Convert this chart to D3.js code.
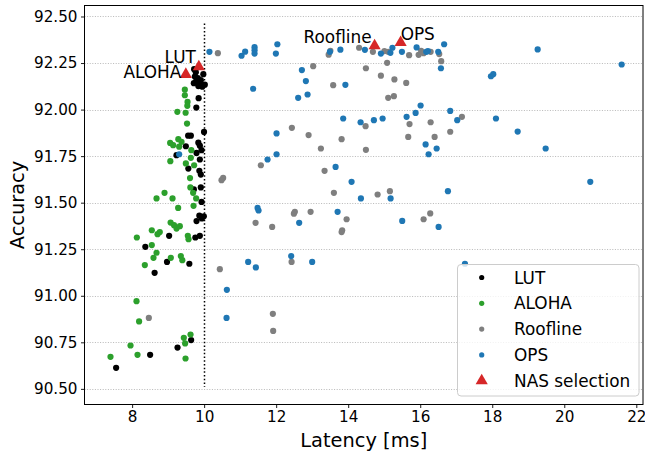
<!DOCTYPE html>
<html>
<head>
<meta charset="utf-8">
<script src="https://cdn.jsdelivr.net/npm/d3@7"></script>
<style>
  html, body { margin: 0; padding: 0; background: #fff; }
  svg { display: block; font-family: "DejaVu Sans", sans-serif; }
</style>
</head>
<body>
<svg id="chart" width="645" height="459"></svg>
<script>
// Latency [ms] / accuracy pairs for each search strategy
const lutLatency = [9.722, 9.769, 9.978, 9.742, 9.825, 9.783, 9.714, 9.881, 10.019, 9.839, 9.950, 9.908,
  9.847, 9.783, 9.997, 9.556, 9.631, 9.492, 9.839, 9.881, 9.928, 9.789, 9.233, 9.881, 9.561, 9.867,
  9.908, 9.908, 9.714, 9.928, 9.867, 9.992, 9.936, 9.789, 9.028, 9.756, 9.881, 8.367, 8.969, 9.589,
  8.625, 9.639, 9.261, 8.500, 7.556];
const lutAccuracy = [92.217, 92.201, 92.190, 92.177, 92.169, 92.153, 92.142, 92.139, 92.134, 92.126, 92.123, 92.158,
  92.061, 92.011, 91.880, 91.860, 91.860, 91.803, 91.822, 91.806, 91.782, 91.767, 91.755, 91.732, 91.683, 91.671,
  91.651, 91.582, 91.571, 91.504, 91.430, 91.427, 91.415, 91.401, 91.322, 91.313, 91.322, 91.263, 91.182, 91.172,
  91.123, 90.762, 90.722, 90.683, 90.613];

const alohaLatency = [9.464, 9.464, 9.539, 9.533, 9.256, 9.486, 9.525, 9.056, 9.139, 9.283, 9.306, 9.372,
  9.644, 9.631, 9.061, 9.492, 9.722, 9.608, 9.617, 8.900, 9.694, 8.678, 9.122, 9.778, 9.278, 9.706,
  9.069, 9.164, 9.233, 9.325, 8.547, 8.769, 8.706, 9.547, 9.567, 8.131, 8.547, 8.678, 8.594, 9.075,
  9.353, 9.394, 8.353, 8.122, 8.194, 9.436, 9.622, 9.472, 7.956, 8.150, 7.400, 9.483];
const alohaAccuracy = [92.107, 92.077, 92.041, 92.020, 91.988, 91.983, 91.925, 91.821, 91.809, 91.841, 91.801, 91.827,
  91.782, 91.741, 91.723, 91.711, 91.701, 91.632, 91.582, 91.553, 91.553, 91.523, 91.523, 91.523, 91.472, 91.483,
  91.393, 91.379, 91.361, 91.374, 91.352, 91.342, 91.331, 91.322, 91.304, 91.313, 91.272, 91.231, 91.204, 91.204,
  91.213, 91.191, 91.165, 90.971, 90.862, 90.774, 90.792, 90.744, 90.733, 90.683, 90.672, 90.663];

const rooflineLatency = [10.381, 13.458, 13.506, 14.303, 14.686, 15.006, 15.111, 15.692, 15.956, 16.025, 16.094, 16.289,
  16.528, 16.583, 13.028, 14.492, 15.081, 14.908, 15.283, 15.611, 13.583, 15.111, 15.269, 17.158, 16.289, 14.483,
  15.703, 12.436, 12.900, 13.242, 13.817, 14.492, 15.667, 16.400, 16.833, 11.575, 13.344, 10.528, 10.483, 13.603,
  14.817, 15.158, 12.519, 12.492, 12.956, 13.956, 16.278, 16.094, 11.428, 11.889, 13.833, 13.817, 12.428, 10.436,
  11.908, 11.917, 8.464];
const rooflineAccuracy = [92.303, 92.295, 92.316, 92.332, 92.310, 92.314, 92.310, 92.292, 92.294, 92.316, 92.303, 92.310,
  92.298, 92.260, 92.233, 92.222, 92.251, 92.182, 92.162, 92.143, 92.131, 92.063, 92.072, 91.961, 91.932, 91.911,
  91.922, 91.902, 91.863, 91.791, 91.841, 91.784, 91.853, 91.853, 91.881, 91.701, 91.671, 91.633, 91.621, 91.553,
  91.544, 91.562, 91.451, 91.441, 91.451, 91.411, 91.442, 91.411, 91.392, 91.370, 91.352, 91.342, 91.182, 91.143,
  90.903, 90.811, 90.881];

const opsLatency = [10.147, 11.039, 11.139, 11.400, 11.400, 11.400, 12.033, 11.992, 11.361, 12.011, 13.492, 13.783,
  14.464, 14.908, 15.172, 15.228, 15.492, 15.900, 16.167, 16.214, 16.500, 16.664, 16.575, 12.714, 12.825, 12.611,
  12.872, 13.922, 16.011, 15.872, 15.622, 16.833, 17.028, 13.861, 14.344, 14.714, 14.956, 19.261, 21.594, 17.964,
  18.028, 18.103, 18.706, 19.483, 16.150, 16.233, 16.456, 20.722, 16.769, 13.650, 14.094, 14.353, 15.178, 13.706,
  12.639, 15.500, 16.511, 12.011, 11.761, 9.306, 11.483, 11.511, 11.222, 11.436, 12.417, 13.000, 17.242, 10.631,
  10.622];
const opsAccuracy = [92.310, 92.289, 92.311, 92.335, 92.319, 92.301, 92.351, 92.301, 92.112, 91.872, 92.310, 92.322,
  92.321, 92.301, 92.305, 92.332, 92.310, 92.334, 92.310, 92.314, 92.310, 92.351, 92.222, 92.212, 92.153, 92.063,
  92.081, 92.133, 92.022, 91.982, 91.961, 91.993, 91.943, 91.952, 91.932, 91.943, 91.952, 92.323, 92.242, 92.179,
  92.190, 91.952, 91.882, 91.791, 91.813, 91.760, 91.791, 91.612, 91.562, 91.692, 91.612, 91.523, 91.523, 91.451,
  91.392, 91.402, 91.370, 91.760, 91.732, 91.760, 91.472, 91.458, 91.182, 91.152, 91.213, 91.182, 91.172, 91.032,
  90.881];

// Architectures picked by the NAS for each strategy
const nasLabels = ["LUT", "ALOHA", "Roofline", "OPS"];
const nasLatency = [9.853, 9.492, 14.733, 15.456];
const nasAccuracy = [92.230, 92.189, 92.343, 92.360];

const xTicks = [8, 10, 12, 14, 16, 18, 20, 22];
const yTicks = [90.50, 90.75, 91.00, 91.25, 91.50, 91.75, 92.00, 92.25, 92.50];
const latencyBudget = 10;
const budgetSpan = [90.51, 92.462];

const seriesNames = ["LUT", "ALOHA", "Roofline", "OPS"];
const seriesColors = ["#000000", "#2ca02c", "#7f7f7f", "#1f77b4"];
const nasColor = "#d62728";

(function draw() {
  const series = [
    { name: seriesNames[0], color: seriesColors[0], xs: lutLatency, ys: lutAccuracy },
    { name: seriesNames[1], color: seriesColors[1], xs: alohaLatency, ys: alohaAccuracy },
    { name: seriesNames[2], color: seriesColors[2], xs: rooflineLatency, ys: rooflineAccuracy },
    { name: seriesNames[3], color: seriesColors[3], xs: opsLatency, ys: opsAccuracy }
  ];

  const svg = d3.select("#chart");
  const pL = 84.5, pR = 643, pT = 5.5, pB = 404.5;

  const x = d3.scaleLinear().domain([6.678, 22.186]).range([pL, pR]);
  const y = d3.scaleLinear().domain([90.416, 92.559]).range([pB, pT]);

  // horizontal grid
  svg.append("g").selectAll("line").data(yTicks).join("line")
    .attr("x1", pL).attr("x2", pR)
    .attr("y1", d => Math.round(y(d)) + 0.5).attr("y2", d => Math.round(y(d)) + 0.5)
    .attr("stroke", "#b0b0b0").attr("stroke-width", 0.9)
    .attr("stroke-dasharray", "1,1.6");

  // latency budget marker
  svg.append("line")
    .attr("x1", Math.round(x(latencyBudget)) + 0.5).attr("x2", Math.round(x(latencyBudget)) + 0.5)
    .attr("y1", y(budgetSpan[1])).attr("y2", y(budgetSpan[0]))
    .attr("stroke", "#000").attr("stroke-width", 1.5)
    .attr("stroke-dasharray", "1.5,2.2");

  // scatter points
  const plot = svg.append("g");
  series.forEach(s => {
    plot.append("g").selectAll("circle").data(s.xs.map((v, i) => [v, s.ys[i]])).join("circle")
      .attr("cx", d => x(d[0])).attr("cy", d => y(d[1])).attr("r", 3.1)
      .attr("fill", s.color);
  });

  // NAS selections
  const tri = d3.symbol().type(d3.symbolTriangle).size(64);
  const nas = nasLabels.map((l, i) => ({ label: l, lx: nasLatency[i], ly: nasAccuracy[i] }));
  plot.append("g").selectAll("path").data(nas).join("path")
    .attr("d", tri)
    .attr("transform", d => `translate(${x(d.lx)},${y(d.ly)})`)
    .attr("fill", nasColor);

  // annotation placement relative to each selected point
  const annot = { LUT: [-3, -4, "end"], ALOHA: [-4.5, 4, "end"], Roofline: [-3, -3, "end"], OPS: [0, -3, "start"] };
  svg.append("g").selectAll("text").data(nas).join("text")
    .attr("x", d => x(d.lx) + annot[d.label][0])
    .attr("y", d => y(d.ly) + annot[d.label][1])
    .attr("text-anchor", d => annot[d.label][2])
    .attr("font-size", "16.9px").attr("fill", "#000")
    .text(d => d.label);

  // axes
  const xAxis = svg.append("g").attr("transform", `translate(0,${pB})`)
    .call(d3.axisBottom(x).tickValues(xTicks).tickSize(3.5).tickPadding(3.5).tickFormat(d3.format("d")));
  const yAxis = svg.append("g").attr("transform", `translate(${pL},0)`)
    .call(d3.axisLeft(y).tickValues(yTicks).tickSize(3.5).tickPadding(3.5).tickFormat(d3.format(".2f")));
  [xAxis, yAxis].forEach(a => {
    a.select(".domain").remove();
    a.selectAll("text").attr("font-size", "15.2px").attr("font-family", "DejaVu Sans").attr("fill", "#000");
    a.selectAll("line").attr("stroke", "#000").attr("stroke-width", 0.9);
  });

  // frame
  svg.append("rect").attr("x", pL).attr("y", pT)
    .attr("width", pR - pL).attr("height", pB - pT)
    .attr("fill", "none").attr("stroke", "#000").attr("stroke-width", 1);

  // axis titles
  svg.append("text").attr("x", (pL + pR) / 2).attr("y", 447)
    .attr("text-anchor", "middle").attr("font-size", "19.4px").text("Latency [ms]");
  svg.append("text").attr("transform", `translate(23.5,${(pT + pB) / 2}) rotate(-90)`)
    .attr("text-anchor", "middle").attr("font-size", "19.4px").text("Accuracy");

  // legend
  const lg = svg.append("g");
  lg.append("rect").attr("x", 457.5).attr("y", 264.5).attr("width", 181.5).attr("height", 131.5)
    .attr("rx", 3.5).attr("fill", "#fff").attr("fill-opacity", 0.8)
    .attr("stroke", "#cccccc").attr("stroke-width", 1);
  const legendItems = seriesNames.map((n, i) => ({ name: n, color: seriesColors[i], tri: false }))
    .concat([{ name: "NAS selection", color: nasColor, tri: true }]);
  legendItems.forEach((d, i) => {
    const cy = 277.5 + i * 25.8;
    if (d.tri) {
      lg.append("path").attr("d", tri).attr("transform", `translate(481.7,${cy})`).attr("fill", d.color);
    } else {
      lg.append("circle").attr("cx", 481.7).attr("cy", cy).attr("r", 2.6).attr("fill", d.color);
    }
    lg.append("text").attr("x", 514).attr("y", cy + 6).attr("font-size", "16.9px").text(d.name);
  });
})();
</script>
</body>
</html>
